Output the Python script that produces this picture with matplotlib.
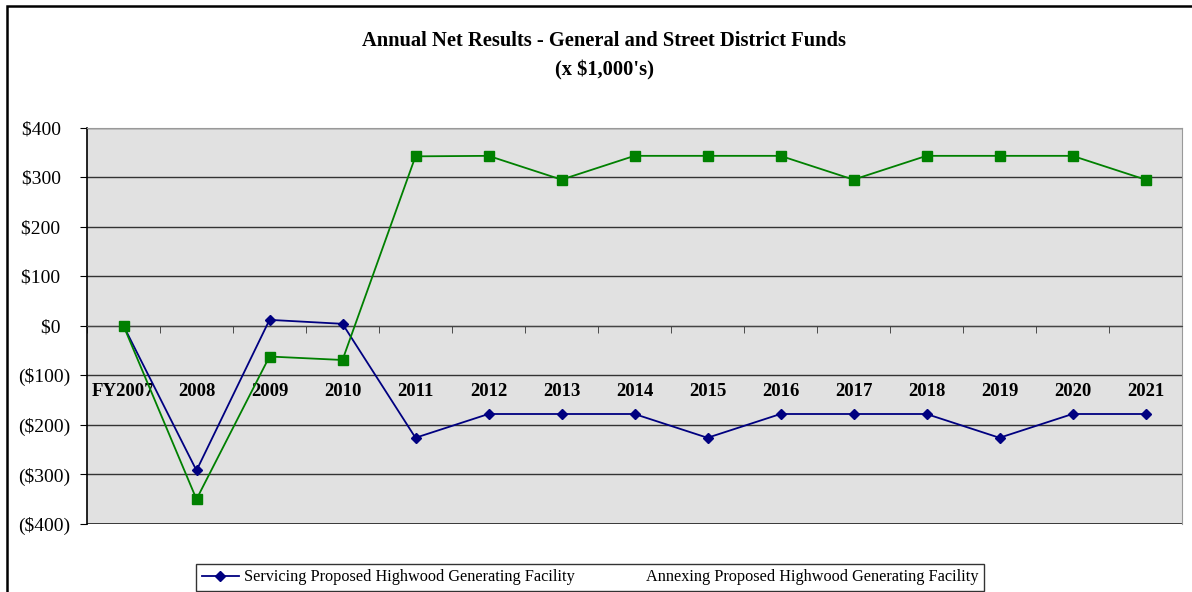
import matplotlib
matplotlib.use('Agg')
import matplotlib.pyplot as plt
from matplotlib.lines import Line2D
from matplotlib.patches import Rectangle
from matplotlib.ticker import FuncFormatter, FixedLocator

plt.rcParams['font.family'] = ['Liberation Serif', 'DejaVu Serif']

years = ['FY2007', '2008', '2009', '2010', '2011', '2012', '2013', '2014',
         '2015', '2016', '2017', '2018', '2019', '2020', '2021']
servicing = [0, -292, 12, 4, -226, -178, -178, -178, -226, -178, -178, -178, -226, -178, -178]
annexing = [0, -350, -62, -69, 342, 343, 295, 343, 343, 343, 295, 343, 343, 343, 295]
y_ticks = [-400, -300, -200, -100, 0, 100, 200, 300, 400]


def money(v, pos=None):
    # accounting style: negatives in brackets, positives padded on the right
    if v < 0:
        return '(${:,.0f})'.format(-v)
    return '${:,.0f}  '.format(v)


fig = plt.figure(figsize=(11.92, 5.92), dpi=100)
fig.patch.set_facecolor('white')

# outer chart frame (runs off the right and bottom edges)
fig.patches.append(Rectangle((7 / 1192, -0.1), 1.2, 1 - 6 / 592 + 0.1,
                             transform=fig.transFigure, fill=False,
                             edgecolor='black', linewidth=1.8))

ax = fig.add_axes([87 / 1192, 68 / 592, 1095 / 1192, 396.4 / 592])
ax.set_facecolor('#e1e1e1')

x = list(range(len(years)))
ax.plot(x, servicing, color='#000080', marker='D', markersize=5.5, linewidth=1.3,
        zorder=4)
ax.plot(x, annexing, color='#008000', marker='s', markersize=7, linewidth=1.3,
        zorder=5)

ax.set_xlim(-0.5, len(years) - 0.5)
ax.set_ylim(-400, 400)

ax.yaxis.set_major_locator(FixedLocator(y_ticks))
ax.yaxis.set_major_formatter(FuncFormatter(money))
ax.grid(axis='y', color='#333333', linewidth=1.0)
ax.set_axisbelow(True)

# category axis crosses at zero
ax.spines['bottom'].set_position(('data', 0))
ax.spines['bottom'].set_color('#444444')
ax.spines['left'].set_color('black')
ax.spines['left'].set_linewidth(1.2)
ax.spines['top'].set_color('#999999')
ax.spines['right'].set_color('#999999')
ax.axhline(-400, color='#222222', linewidth=1.2, zorder=2)

ax.set_xticks(x)
ax.set_xticklabels(years, fontsize=13.5, fontweight='bold')
ax.set_xticks([i + 0.5 for i in range(-1, len(years))], minor=True)
ax.tick_params(axis='x', which='major', length=0, pad=41)
ax.tick_params(axis='x', which='minor', length=5, direction='out', color='#333333')
ax.tick_params(axis='y', length=5, direction='out', pad=7, labelsize=14)

fig.text(0.507, 1 - 41 / 592, 'Annual Net Results - General and Street District Funds',
         ha='center', va='center', fontsize=14.8, fontweight='bold')
fig.text(0.507, 1 - 70 / 592, "(x $1,000's)",
         ha='center', va='center', fontsize=14.8, fontweight='bold')

handles = [Line2D([], [], color='#000080', marker='D', markersize=5.5, linewidth=1.3),
           Line2D([], [], color='none')]
labels = ['Servicing Proposed Highwood Generating Facility',
          'Annexing Proposed Highwood Generating Facility']
leg = fig.legend(handles, labels, loc='lower left', ncol=2, mode='expand',
                 bbox_to_anchor=(196 / 1192, 1 / 592, 788 / 1192, 30 / 592),
                 fontsize=11.7, frameon=True, fancybox=False, borderaxespad=0,
                 handlelength=2.3, handletextpad=0.3, borderpad=0.35,
                 columnspacing=4.5)
leg.get_frame().set_edgecolor('black')
leg.get_frame().set_linewidth(1.0)

fig.savefig('out.png', dpi=100)
